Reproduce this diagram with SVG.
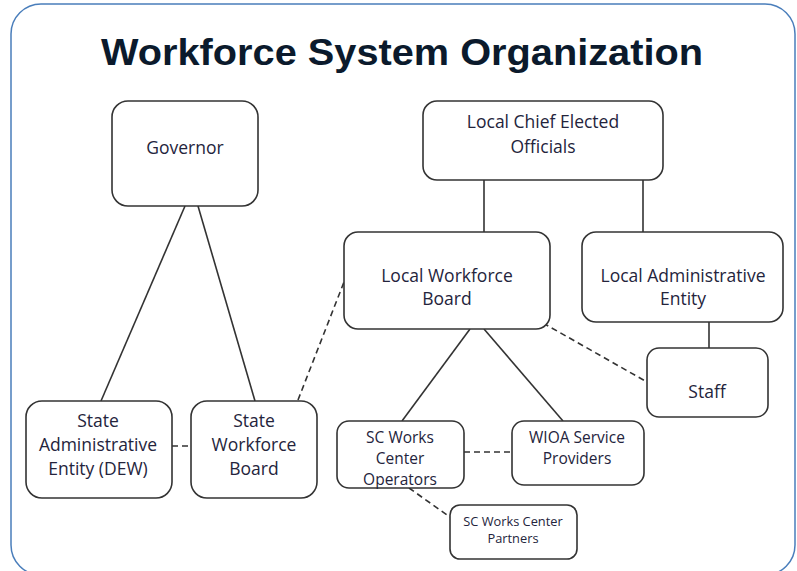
<svg xmlns="http://www.w3.org/2000/svg" width="797" height="571" viewBox="0 0 797 571">
<style>
.node rect{fill:#fff;stroke:#333;stroke-width:1.6}
.node text{font-family:"Open Sans","Noto Sans","DejaVu Sans",sans-serif;font-size:17.5px;fill:#24243c;text-anchor:middle;dominant-baseline:central}
.node text.m{font-size:15.5px}
.node text.s{font-size:12.8px}
.con line{stroke:#333;stroke-width:1.6;fill:none}
.con .d{stroke-dasharray:6,4}
</style>
<rect x="0" y="0" width="797" height="571" fill="#fff"/>
<rect x="11" y="4" width="784" height="571" rx="30" fill="#fff" stroke="#4a7ebb" stroke-width="1.5"/>
<text x="402" y="65" font-family="'Liberation Sans',Arial,sans-serif" font-weight="bold" font-size="36" fill="#0b1a2c" text-anchor="middle" textLength="602" lengthAdjust="spacingAndGlyphs">Workforce System Organization</text>
<g class="con">
<line x1="185" y1="206" x2="101" y2="401"/>
<line x1="198" y1="206" x2="255" y2="401"/>
<line x1="484" y1="180" x2="484" y2="232"/>
<line x1="643" y1="180" x2="643" y2="232"/>
<line x1="709" y1="322" x2="709" y2="348"/>
<line x1="470" y1="329" x2="402" y2="421"/>
<line x1="484" y1="329" x2="563" y2="421"/>
<line class="d" x1="172" y1="446" x2="191" y2="446"/>
<line class="d" x1="298" y1="400" x2="344" y2="282"/>
<line class="d" x1="543" y1="323" x2="647" y2="382"/>
<line class="d" x1="464" y1="452" x2="512" y2="452"/>
<line class="d" x1="409" y1="488" x2="450" y2="517"/>
</g>
<g id="governor" class="node"><rect x="112" y="101" width="146" height="105" rx="16"/><text x="185" y="147">Governor</text></g>
<g id="lceo" class="node"><rect x="423" y="101" width="240" height="79" rx="14"/><text x="543" y="121">Local Chief Elected</text><text x="543" y="146">Officials</text></g>
<g id="lwb" class="node"><rect x="344" y="232" width="206" height="97" rx="14"/><text x="447" y="275">Local Workforce</text><text x="447" y="298">Board</text></g>
<g id="lae" class="node"><rect x="582" y="232" width="201" height="90" rx="14"/><text x="683" y="275">Local Administrative</text><text x="683" y="298">Entity</text></g>
<g id="staff" class="node"><rect x="647" y="348" width="121" height="69" rx="12"/><text x="707" y="391">Staff</text></g>
<g id="sae" class="node"><rect x="26" y="401" width="146" height="97" rx="16"/><text x="98" y="420">State</text><text x="98" y="444">Administrative</text><text x="98" y="468">Entity (DEW)</text></g>
<g id="swb" class="node"><rect x="191" y="401" width="126" height="97" rx="16"/><text x="254" y="420">State</text><text x="254" y="444">Workforce</text><text x="254" y="468">Board</text></g>
<g id="scwco" class="node"><rect x="337" y="421" width="127" height="67" rx="12"/><text class="m" x="400" y="437">SC Works</text><text class="m" x="400" y="458">Center</text><text class="m" x="400" y="479">Operators</text></g>
<g id="wioa" class="node"><rect x="512" y="421" width="132" height="64" rx="12"/><text class="m" x="577" y="437">WIOA Service</text><text class="m" x="577" y="458">Providers</text></g>
<g id="scwcp" class="node"><rect x="450" y="505" width="127" height="54" rx="10"/><text class="s" x="513" y="521">SC Works Center</text><text class="s" x="513" y="538">Partners</text></g>
</svg>
